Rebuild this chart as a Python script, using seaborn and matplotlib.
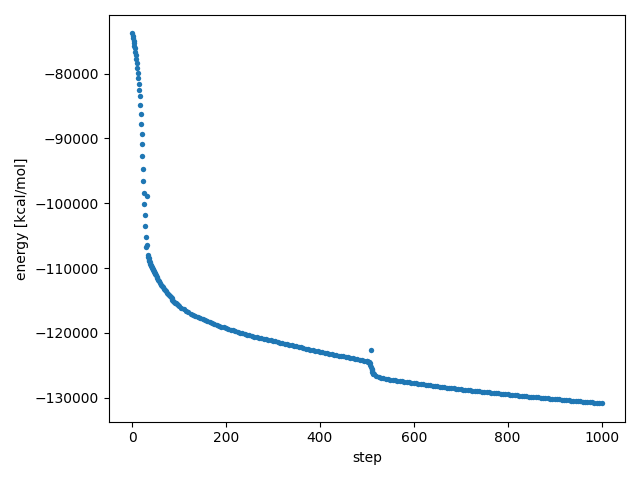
import matplotlib
matplotlib.use('Agg')
import matplotlib.pyplot as plt
import seaborn as sns
import numpy as np
import pandas as pd

# steps sampled: every step early on, coarser later
steps = np.concatenate([
    np.arange(0, 51),          # 0..50
    np.arange(52, 101, 2),     # 52..100
    np.arange(105, 501, 5),    # 105..500
    np.arange(501, 516),       # 501..515 (restart region)
    np.arange(520, 1001, 5),   # 520..1000
])

energy_0_50 = [
    -73818, -74217, -74585, -74938, -75352, -75751, -76119, -76625, -77132, -77745,
    -78420, -79187, -79954, -80721, -81580, -82500, -83528, -84801, -86182, -87716,
    -89250, -90937, -92732, -94773, -96567, -98362, -100142, -101783, -103470, -105158,
    -106692, -98868, -106480, -108000, -108250, -108480, -108700, -108910, -109110, -109300,
    -109490, -109670, -109845, -110015, -110180, -110340, -110495, -110645, -110790, -110930,
    -111065,
]

energy_52_100 = [
    -111330, -111580, -111815, -112040, -112300, -112530, -112750, -112965, -113175, -113380,
    -113580, -113775, -113965, -114150, -114330, -114505, -114675, -114840, -115000, -115155,
    -115305, -115450, -115590, -115725, -115855,
]

energy_105_500 = [
    -116115, -116360, -116590, -116810, -117020, -117220, -117410, -117590, -117760, -117920,
    -118075, -118225, -118370, -118510, -118645, -118775, -118903, -119028, -119150, -119270,
    -119388, -119503, -119615, -119725, -119833, -119943, -120050, -120155, -120258, -120358,
    -120455, -120550, -120643, -120733, -120820, -120905, -120990, -121072, -121155, -121235,
    -121315, -121395, -121480, -121565, -121650, -121735, -121820, -121905, -121990, -122075,
    -122158, -122240, -122322, -122403, -122483, -122563, -122642, -122720, -122798, -122875,
    -122952, -123028, -123104, -123180, -123255, -123330, -123405, -123480, -123554, -123628,
    -123702, -123776, -123850, -123924, -123998, -124072, -124146, -124220, -124294, -124370,
]

energy_501_515 = [
    -124390, -124410, -124440, -124480, -124520, -124650, -124900, -125200, -122690, -125500,
    -125750, -125980, -126150, -126280, -126380,
]

energy_520_1000 = [
    -126600, -126750, -126880, -126990, -127070, -127140, -127200, -127255, -127310, -127365,
    -127420, -127470, -127520, -127570, -127620, -127670, -127720, -127772, -127823, -127874,
    -127925, -127975, -128025, -128074, -128123, -128172, -128220, -128268, -128316, -128363,
    -128410, -128456, -128502, -128547, -128592, -128636, -128680, -128723, -128766, -128808,
    -128850, -128891, -128932, -128973, -129013, -129053, -129093, -129132, -129171, -129210,
    -129249, -129288, -129326, -129364, -129402, -129440, -129478, -129515, -129552, -129589,
    -129626, -129662, -129698, -129734, -129770, -129806, -129841, -129876, -129911, -129946,
    -129981, -130016, -130050, -130084, -130118, -130152, -130186, -130219, -130252, -130285,
    -130318, -130351, -130384, -130417, -130450, -130483, -130516, -130548, -130580, -130612,
    -130644, -130676, -130708, -130740, -130772, -130804, -130836,
]

energy = energy_0_50 + energy_52_100 + energy_105_500 + energy_501_515 + energy_520_1000
df = pd.DataFrame({'step': steps, 'energy': energy})

fig, ax = plt.subplots(figsize=(6.4, 4.8), dpi=100)
sns.scatterplot(data=df, x='step', y='energy', ax=ax, s=15, color='#1f77b4',
                linewidth=0)
ax.set_xlabel('step')
ax.set_ylabel('energy [kcal/mol]')
plt.tight_layout()
plt.savefig('out.png', dpi=100)
